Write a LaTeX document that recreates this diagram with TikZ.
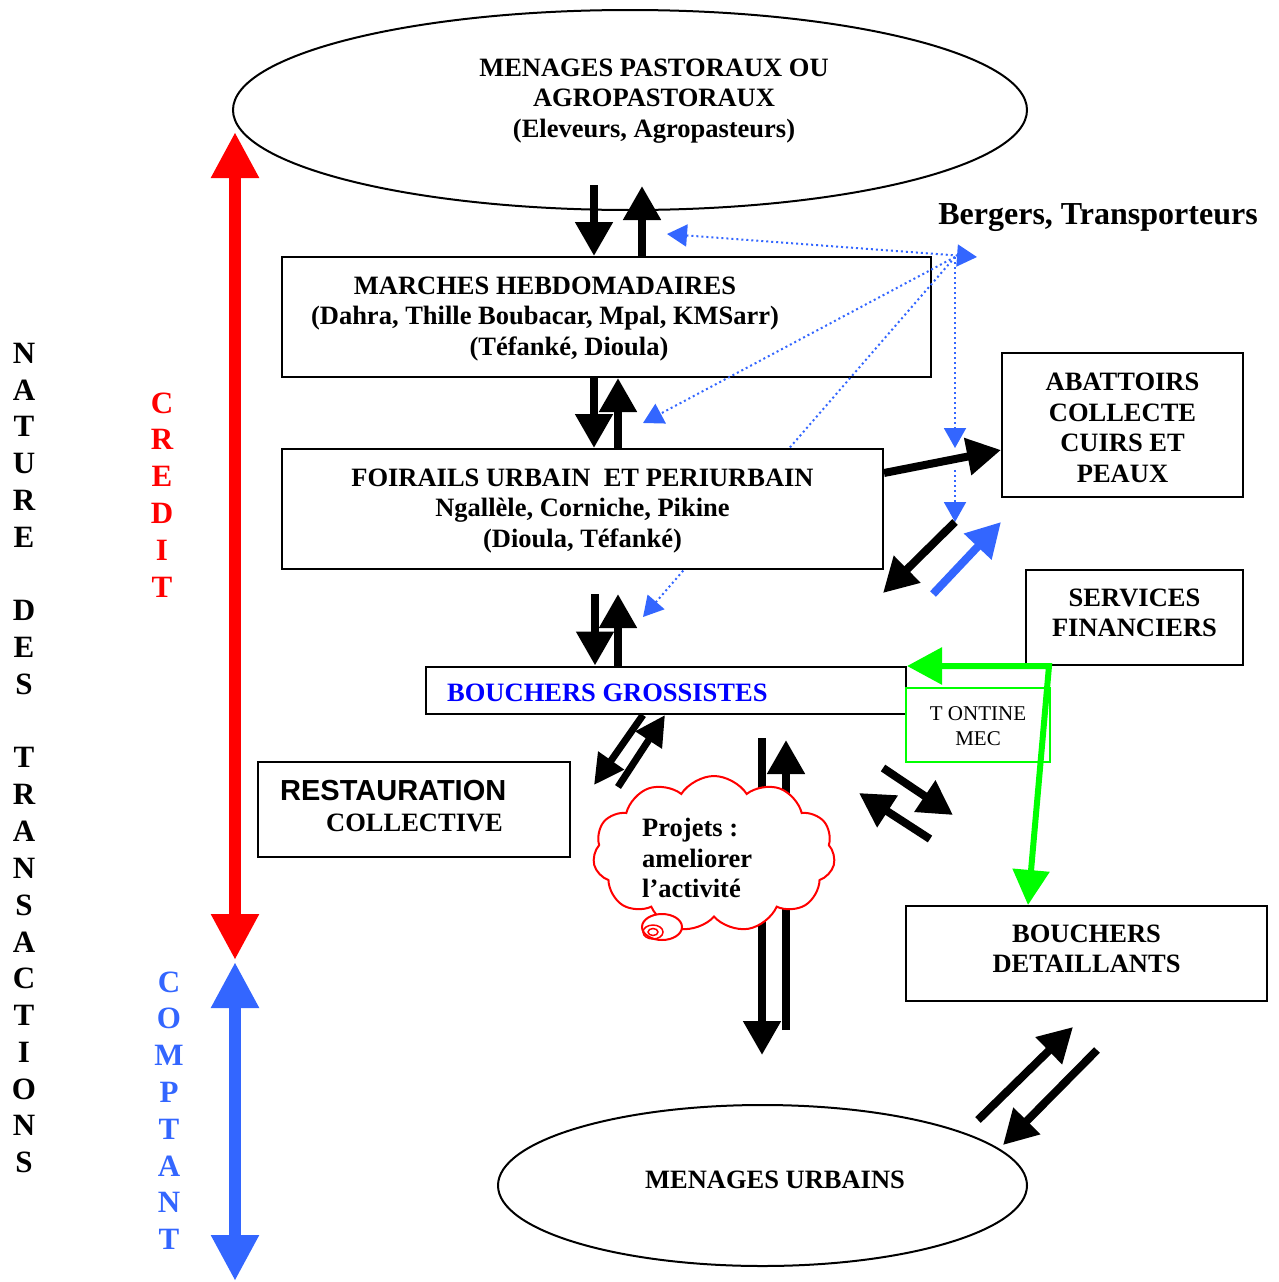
\documentclass[tikz,border=0pt]{standalone}
\usepackage{fontspec}
\setmainfont{Liberation Serif}
\newfontfamily\sansbold{Liberation Sans}
\usetikzlibrary{arrows.meta,shapes.geometric,shapes.symbols}
\definecolor{flowblue}{RGB}{51,102,255}
\definecolor{textblue}{RGB}{0,0,255}
\definecolor{tontine}{RGB}{0,255,0}
\definecolor{creditred}{RGB}{255,0,0}

\begin{document}
\begin{tikzpicture}[x=1pt,y=-1pt,
  box/.style={draw, line width=2pt, fill=white, inner sep=0pt},
  oval/.style={ellipse, draw, line width=2pt, fill=white, inner sep=0pt},
  lbl/.style={font=\fontsize{26.5}{30.5}\selectfont\bfseries, align=center, inner sep=0pt},
  letter/.style={font=\fontsize{31}{37}\selectfont\bfseries, inner sep=0pt},
  flow/.style={line width=8pt, -{Triangle[length=34pt,width=36pt]}},
  thin flow/.style={line width=7pt, -{Triangle[length=30pt,width=30pt]}},
  hint/.style={flowblue, line width=2pt, dash pattern=on 2pt off 3pt,
    -{Triangle[length=20pt,width=22pt]}},
  span/.style={line width=12pt,
    {Triangle[length=46pt,width=45pt]}-{Triangle[length=46pt,width=45pt]}}
]
\useasboundingbox (0,0) rectangle (1279,1282);

% ---- main nodes (drawn first so that arrows sit on top) ----
\node[oval, minimum width=794pt, minimum height=200pt] (pasto) at (630,110) {};
\node[lbl] (pasto-t) at (654,101) {MENAGES PASTORAUX OU\\AGROPASTORAUX\\(Eleveurs, Agropasteurs)};

\node[box, minimum width=649pt, minimum height=120pt] (marches) at (606.5,317) {};
\node[lbl] (marches-t) at (545,319) {MARCHES HEBDOMADAIRES\\(Dahra, Thille Boubacar, Mpal, KMSarr)\\\hspace*{48pt}(Téfanké, Dioula)};

\node[font=\fontsize{32}{36}\selectfont\bfseries, inner sep=0pt] (bergers) at (1098,218) {Bergers, Transporteurs};

% ---- dotted links from the herders / transporters hub ----
\coordinate (hub) at (955,257);
\coordinate (h-left) at (667,234);
\coordinate (h-right) at (977,257);
\coordinate (h-marche) at (643,423);
\coordinate (h-gross) at (643,617);
\coordinate (h-abat) at (955,448);
\coordinate (h-top2) at (955,470);
\coordinate (h-bot2) at (955,522);
\draw[hint, {Triangle[length=20pt,width=22pt]}-{Triangle[length=20pt,width=22pt]}] (h-left) -- (h-right);
\draw[hint] (hub) -- (h-marche);
\draw[hint] (hub) -- (h-gross);
\draw[hint] (hub) -- (h-abat);
\draw[hint] (h-top2) -- (h-bot2);

\node[box, minimum width=601pt, minimum height=120pt] (foirails) at (582.5,509) {};
\node[lbl] (foirails-t) at (582.5,511) {FOIRAILS URBAIN~ ET PERIURBAIN\\Ngallèle, Corniche, Pikine\\(Dioula, Téfanké)};

\node[box, minimum width=241pt, minimum height=144pt] (abattoirs) at (1122.5,425) {};
\node[lbl] (abattoirs-t) at (1122.5,428) {ABATTOIRS\\COLLECTE\\CUIRS ET\\PEAUX};

\node[box, minimum width=217pt, minimum height=95pt] (services) at (1134.5,617.5) {};
\node[lbl] (services-t) at (1134.5,613) {SERVICES\\FINANCIERS};

\node[box, minimum width=480pt, minimum height=47pt] (gross) at (666,690) {};
\node[lbl, anchor=west, text=textblue] (gross-t) at (447,693) {BOUCHERS GROSSISTES};

\node[box, draw=tontine, minimum width=144pt, minimum height=74pt] (tontine) at (978,725) {};
\node[font=\fontsize{21}{25}\selectfont, align=center, inner sep=0pt] (tontine-t) at (978,726) {T ONTINE\\MEC};

\node[box, minimum width=312pt, minimum height=95pt] (restau) at (414,809.5) {};
\node[font=\fontsize{29}{32}\selectfont\sansbold\bfseries, anchor=west, inner sep=0pt] (restau-t1) at (280,791) {RESTAURATION};
\node[lbl, anchor=west] (restau-t2) at (326,823) {COLLECTIVE};

\node[box, minimum width=361pt, minimum height=95pt] (detail) at (1086.5,953.5) {};
\node[lbl] (detail-t) at (1086.5,949) {BOUCHERS\\DETAILLANTS};

\node[oval, minimum width=529pt, minimum height=161pt] (urbains) at (762.5,1185.5) {};
\node[lbl] (urbains-t) at (775,1180) {MENAGES URBAINS};

% ---- tontine / financial services link ----
\coordinate (g-corner) at (1049,666);
\draw[tontine, line width=6pt, {Triangle[length=35pt,width=36pt]}-{Triangle[length=35pt,width=36pt]}]
  (gross.east |- g-corner) -- (g-corner) -- (1028,0 |- detail.north);

% ---- flows between the levels of the chain ----
\coordinate (d1) at (594,185);
\coordinate (u1) at (642,186);
\draw[flow] (d1) -- (d1 |- marches.north);
\draw[flow] (u1 |- marches.north) -- (u1);

\coordinate (d2) at (594,0);
\coordinate (u2) at (618,0);
\draw[flow] (d2 |- marches.south) -- (d2 |- foirails.north);
\draw[flow] (u2 |- foirails.north) -- (u2 |- marches.south);

\coordinate (d3) at (595,594);
\coordinate (u3) at (618,594);
\draw[flow] (d3) -- (d3 |- gross.north);
\draw[flow] (u3 |- gross.north) -- (u3);

\draw[flow] ([yshift=36pt]foirails.east) -- ([yshift=-25pt]abattoirs.west);

\coordinate (ab-a) at (955,522);
\coordinate (ab-b) at (883,593);
\coordinate (ab-c) at (933,594);
\coordinate (ab-d) at (1001,522);
\draw[flow] (ab-a) -- (ab-b);
\draw[flow, flowblue] (ab-c) -- (ab-d);

\coordinate (rs-a) at (643,715);
\coordinate (rs-b) at (594,785);
\coordinate (rs-c) at (618,787);
\coordinate (rs-d) at (665,715);
\draw[thin flow] (rs-a) -- (rs-b);
\draw[thin flow] (rs-c) -- (rs-d);

\coordinate (c-a) at (762,738);
\coordinate (c-b) at (762,1055);
\coordinate (c-c) at (786,1030);
\coordinate (c-d) at (786,740);
\draw[flow] (c-a) -- (c-b);
\draw[flow] (c-c) -- (c-d);

\coordinate (dt-a) at (883,768);
\coordinate (dt-b) at (953,815);
\coordinate (dt-c) at (930,839);
\coordinate (dt-d) at (859,793);
\draw[flow] (dt-a) -- (dt-b);
\draw[flow] (dt-c) -- (dt-d);

\coordinate (mu-a) at (978,1120);
\coordinate (mu-b) at (1073,1027);
\coordinate (mu-c) at (1097,1050);
\coordinate (mu-d) at (1003,1145);
\draw[flow] (mu-a) -- (mu-b);
\draw[flow] (mu-c) -- (mu-d);

% ---- project cloud ----
\node[cloud, cloud puffs=11, cloud puff arc=115, aspect=1.55, draw=creditred, line width=2pt,
  fill=white, minimum width=242pt, minimum height=156pt, inner sep=0pt] (projets) at (714,854) {};
\node[lbl, align=left, anchor=west] (projets-t) at (642,858) {Projets :\\ameliorer\\l’activité};
\node[ellipse, draw=creditred, line width=2pt, fill=white, minimum width=40pt, minimum height=26pt, inner sep=0pt] (tail1) at (662,927) {};
\node[ellipse, draw=creditred, line width=1.5pt, minimum width=20pt, minimum height=14pt, inner sep=0pt] (tail2) at (653,932) {};
\node[ellipse, draw=creditred, line width=1.5pt, minimum width=10pt, minimum height=7pt, inner sep=0pt] (tail3) at (653,932) {};

% ---- nature of the transactions ----
\coordinate (cr-top) at (235,132);
\coordinate (cr-bot) at (235,960);
\coordinate (co-top) at (235,962);
\coordinate (co-bot) at (235,1281);
\draw[span, creditred] (cr-top) -- (cr-bot);
\draw[span, flowblue] (co-top) -- (co-bot);

\foreach \i/\c in {0/N,1/A,2/T,3/U,4/R,5/E,7/D,8/E,9/S,11/T,12/R,13/A,14/N,15/S,16/A,17/C,18/T,19/I,20/O,21/N,22/S}
  \node[letter] (nat-\i) at (24,353+\i*36.8) {\c};
\foreach \i/\c in {0/C,1/R,2/E,3/D,4/I,5/T}
  \node[letter, text=creditred] (cre-\i) at (162,403+\i*36.8) {\c};
\foreach \i/\c in {0/C,1/O,2/M,3/P,4/T,5/A,6/N,7/T}
  \node[letter, text=flowblue] (com-\i) at (169,982+\i*36.8) {\c};

\end{tikzpicture}
\end{document}
